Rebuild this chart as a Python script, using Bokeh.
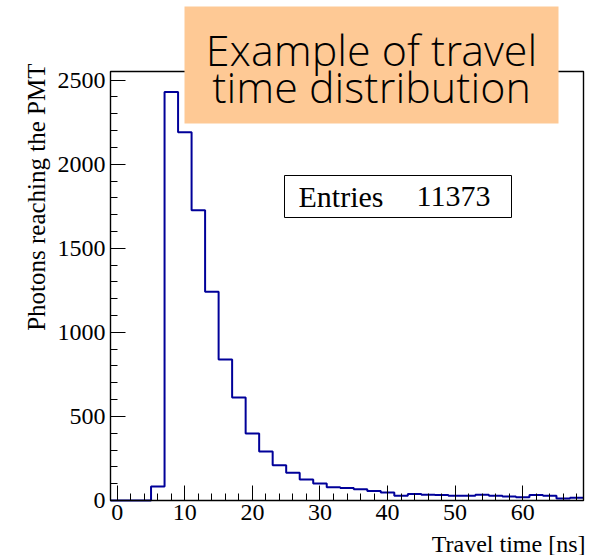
import numpy as np
from bokeh.plotting import figure
from bokeh.models import Range1d, FixedTicker, Label, BoxAnnotation
from bokeh.embed import file_html
from bokeh.resources import INLINE

# Histogram of photon travel times: 35 bins of 2 ns from -1 to 69 ns
bin_low = -1
bin_high = 69
bin_width = 2
counts = [0, 0, 0, 83, 2430, 2190, 1726, 1242, 839, 613, 399, 292, 210, 165,
          125, 101, 79, 75, 67, 56, 47, 28, 38, 34, 32, 28, 28, 34, 28, 24,
          20, 32, 28, 12, 16]
entries = 11373

x_major = [0, 10, 20, 30, 40, 50, 60]
y_major = [0, 500, 1000, 1500, 2000, 2500]

title_lines = ["Example of travel", "time distribution"]
x_title = "Travel time [ns]"
y_title = "Photons reaching the PMT"

W, H = 602, 555
# pad (canvas pixels) between the canvas edge and the histogram frame
pad_left, pad_right, pad_top, pad_bottom = 110, 19, 71, 55

edges = np.arange(bin_low, bin_high + bin_width, bin_width)
step_y = list(counts) + [counts[-1]]
y_top = max(counts) * 1.05

# The plotting area covers the whole canvas; ranges are widened so that the
# histogram frame sits inside it with room for labels and the title box.
fx = (bin_high - bin_low) / (W - pad_left - pad_right)
fy = y_top / (H - pad_top - pad_bottom)
x_range = Range1d(bin_low - pad_left * fx, bin_high + pad_right * fx)
y_range = Range1d(-pad_bottom * fy, y_top + pad_top * fy)

serif = "Liberation Serif"
line_blue = "#000099"

p = figure(width=W, height=H, output_backend="svg", toolbar_location=None,
           x_range=x_range, y_range=y_range,
           min_border_left=0, min_border_right=0,
           min_border_top=0, min_border_bottom=0)

p.background_fill_color = "white"
p.border_fill_color = "white"
p.xgrid.visible = False
p.ygrid.visible = False
p.outline_line_color = None

# histogram frame
p.add_layout(BoxAnnotation(left=bin_low, right=bin_high, bottom=0, top=y_top,
                           fill_color=None, fill_alpha=0,
                           line_color="black", line_alpha=1.0, line_width=1.4))

# histogram outline
p.step(x=edges, y=step_y, mode="after", line_color=line_blue, line_width=2)

# axes pinned to the frame edges, ROOT-style inward ticks
p.xaxis.fixed_location = 0
p.yaxis.fixed_location = bin_low
p.xaxis.ticker = FixedTicker(ticks=x_major,
                             minor_ticks=list(range(0, bin_high, 2)))
p.yaxis.ticker = FixedTicker(ticks=y_major,
                             minor_ticks=list(range(0, 2501, 100)))
for ax in (p.xaxis[0], p.yaxis[0]):
    ax.axis_line_color = None
    ax.major_tick_in = 15
    ax.major_tick_out = 0
    ax.minor_tick_in = 7
    ax.minor_tick_out = 0
    ax.major_tick_line_color = "black"
    ax.minor_tick_line_color = "black"
    ax.major_label_text_font = serif
    ax.major_label_text_font_size = "24px"
    ax.major_label_text_color = "black"
p.xaxis.major_label_standoff = 4
p.yaxis.major_label_standoff = 5


def canvas_label(x, y, text, **kw):
    """Label placed in canvas pixels measured from the top-left corner."""
    return Label(x=x, y=H - y, x_units="screen", y_units="screen", text=text,
                 text_color="black", **kw)


# axis titles, right-aligned at the frame ends
p.add_layout(canvas_label(585, 543, x_title, text_align="right",
                          text_baseline="alphabetic",
                          text_font=serif, text_font_size="24px"))
p.add_layout(canvas_label(36, 63, y_title, angle=np.pi / 2, text_align="right",
                          text_baseline="alphabetic",
                          text_font=serif, text_font_size="25px"))

# statistics box
p.add_layout(BoxAnnotation(left=284, right=511, bottom=H - 217, top=H - 175,
                           left_units="screen", right_units="screen",
                           bottom_units="screen", top_units="screen",
                           fill_color="white", fill_alpha=1.0,
                           line_color="black", line_alpha=1.0, line_width=1))
p.add_layout(canvas_label(298, 196, "Entries", text_align="left",
                          text_baseline="alphabetic",
                          text_font=serif, text_font_size="30px"))
p.add_layout(canvas_label(490, 196, str(entries), text_align="right",
                          text_baseline="alphabetic",
                          text_font=serif, text_font_size="30px"))

# title box
p.add_layout(BoxAnnotation(left=184, right=558, bottom=H - 123, top=H - 6,
                           left_units="screen", right_units="screen",
                           bottom_units="screen", top_units="screen",
                           fill_color="#fec995", fill_alpha=1.0, line_color=None))
for text, base in zip(title_lines, (49, 86)):
    p.add_layout(canvas_label(371, base, text, text_align="center",
                              text_baseline="alphabetic",
                              text_font="Open Sans Light", text_font_size="43px"))

open("out.html", "w").write(file_html(p, INLINE))
